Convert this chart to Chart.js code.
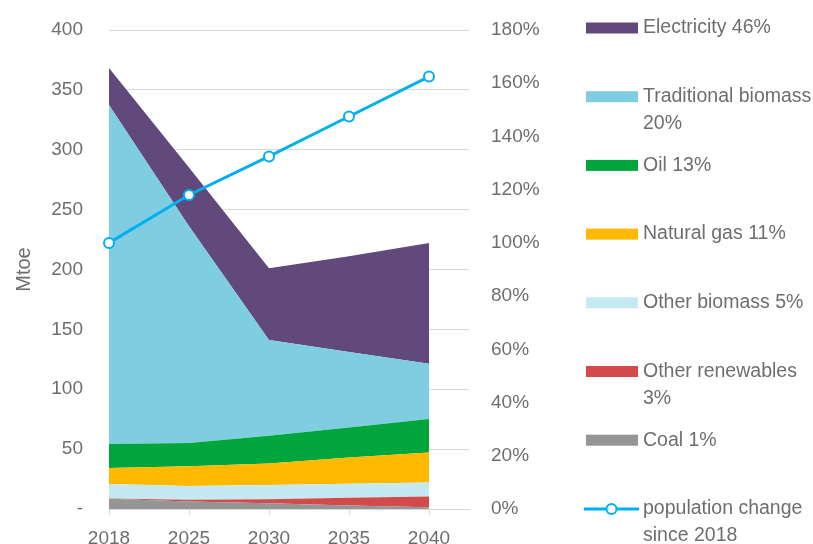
<!DOCTYPE html>
<html>
<head>
<meta charset="utf-8">
<script src="https://cdn.jsdelivr.net/npm/chart.js@4"></script>
<style>
    html, body { margin: 0; padding: 0; background: #fff; }
    canvas { display: block; }
</style>
</head>
<body>
<canvas id="chart" width="813" height="544"></canvas>
<script>
// Years on the x axis
const years = ['2018', '2025', '2030', '2035', '2040'];

// Energy by source in Mtoe, stacked bottom to top
const coal = [8.5, 6.3, 4.8, 3.0, 1.5];
const otherRenewables = [0.3, 1.4, 3.3, 6.4, 9.0];
const otherBiomass = [12, 11.5, 12, 11.7, 11.7];
const naturalGas = [13.5, 16.5, 18, 22, 25];
const oil = [20, 19.5, 23, 25, 28];
const traditionalBiomass = [283, 181, 80, 63, 46];
const electricity = [31, 49, 60, 80, 101];

// Population change since 2018 (right axis, %)
const population = [100, 118, 132.5, 147.5, 162.5];

const areaNames = ['Coal 1%', 'Other renewables 3%', 'Other biomass 5%', 'Natural gas 11%',
    'Oil 13%', 'Traditional biomass 20%', 'Electricity 46%'];
const lineName = 'population change since 2018';

const leftTicks = ['-', '50', '100', '150', '200', '250', '300', '350', '400'];
const rightTicks = ['0%', '20%', '40%', '60%', '80%', '100%', '120%', '140%', '160%', '180%'];

const areaColors = ['#959595', '#d24a4a', '#c5e9f1', '#ffb900', '#00a63c', '#7fcde1', '#61497b'];
const lineColor = '#00b0f0';
const textColor = '#6e6e6e';
const gridColor = '#d9d9d9';
const fontFamily = '"Liberation Sans", Arial, sans-serif';

const areaSeries = [coal, otherRenewables, otherBiomass, naturalGas, oil, traditionalBiomass, electricity];

const datasets = areaSeries.map(function(values, i) {
    return {
        label: areaNames[i],
        data: values.map((v, j) => ({ x: j, y: v })),
        yAxisID: 'y',
        backgroundColor: areaColors[i],
        borderWidth: 0,
        pointRadius: 0,
        fill: i === 0 ? 'origin' : '-1',
        tension: 0,
        order: 1
    };
});

datasets.push({
    label: lineName,
    data: population.map((v, j) => ({ x: j, y: v })),
    yAxisID: 'y1',
    borderColor: lineColor,
    borderWidth: 3,
    backgroundColor: '#fff',
    pointRadius: 5,
    pointBorderWidth: 2,
    pointBorderColor: lineColor,
    pointBackgroundColor: '#fff',
    fill: false,
    clip: false,
    order: 0
});

// Legend drawn to the right, laid out like the original
const sideLegend = {
    id: 'sideLegend',
    afterDraw(chart) {
        const ctx = chart.ctx;
        const boxX = 586, boxW = 52, textX = 643, maxW = 170;
        ctx.save();
        ctx.font = '19.5px ' + fontFamily;
        ctx.textBaseline = 'middle';
        ctx.textAlign = 'left';

        function wrap(text) {
            const words = text.split(' ');
            const lines = [];
            let cur = '';
            words.forEach(function(w) {
                const test = cur ? cur + ' ' + w : w;
                if (ctx.measureText(test).width > maxW && cur) {
                    lines.push(cur);
                    cur = w;
                } else {
                    cur = test;
                }
            });
            lines.push(cur);
            return lines;
        }

        const entries = [];
        for (let i = areaNames.length - 1; i >= 0; i--) {
            entries.push({ text: areaNames[i], color: areaColors[i], line: false });
        }
        entries.push({ text: lineName, color: lineColor, line: true });

        entries.forEach(function(e, k) {
            const cy = 28 + k * 68.7;
            if (e.line) {
                ctx.strokeStyle = e.color;
                ctx.lineWidth = 3;
                ctx.beginPath();
                ctx.moveTo(584, cy);
                ctx.lineTo(639, cy);
                ctx.stroke();
                ctx.fillStyle = '#fff';
                ctx.lineWidth = 2;
                ctx.beginPath();
                ctx.arc(611.5, cy, 5, 0, Math.PI * 2);
                ctx.fill();
                ctx.stroke();
            } else {
                ctx.fillStyle = e.color;
                ctx.fillRect(boxX, cy - 5.5, boxW, 11);
            }
            ctx.fillStyle = textColor;
            wrap(e.text).forEach(function(line, n) {
                ctx.fillText(line, textX, cy + n * 27);
            });
        });
        ctx.restore();
    }
};

const ctx = document.getElementById('chart').getContext('2d');
const chart = new Chart(ctx, {
    type: 'line',
    data: { datasets: datasets },
    options: {
        responsive: false,
        animation: false,
        layout: { padding: { top: 30, right: 240, bottom: 0, left: 0 } },
        plugins: {
            legend: { display: false },
            tooltip: { enabled: false }
        },
        scales: {
            x: {
                type: 'linear',
                min: 0,
                max: 4.5,
                afterBuildTicks: function(scale) {
                    scale.ticks = years.map((_, i) => ({ value: i }));
                },
                afterFit: function(scale) { scale.height = 35; },
                grid: { drawOnChartArea: false, drawTicks: true, tickLength: 6, color: gridColor },
                border: { display: true, color: gridColor, width: 1 },
                ticks: {
                    autoSkip: false,
                    maxRotation: 0,
                    padding: 12,
                    color: textColor,
                    font: { family: fontFamily, size: 19 },
                    callback: function(value) { return years[value]; }
                }
            },
            y: {
                position: 'left',
                stacked: true,
                min: 0,
                max: 400,
                afterFit: function(scale) { scale.width = 109; },
                // invisible tick marks push the labels out without adding top padding
                grid: { color: gridColor, lineWidth: 1, drawTicks: true, tickLength: 24, tickColor: 'rgba(0,0,0,0)' },
                border: { display: false },
                ticks: {
                    stepSize: 50,
                    padding: 2,
                    color: textColor,
                    font: { family: fontFamily, size: 19 },
                    callback: function(value, index) { return leftTicks[index]; }
                },
                title: {
                    display: true,
                    text: 'Mtoe',
                    color: textColor,
                    font: { family: fontFamily, size: 20 },
                    padding: { top: 12, bottom: 0 }
                }
            },
            y1: {
                position: 'right',
                min: 0,
                max: 180,
                afterFit: function(scale) { scale.width = 104; },
                grid: { display: false, tickLength: 20 },
                border: { display: false },
                ticks: {
                    stepSize: 20,
                    padding: 2,
                    color: textColor,
                    font: { family: fontFamily, size: 19 },
                    callback: function(value, index) { return rightTicks[index]; }
                }
            }
        }
    },
    plugins: [sideLegend]
});
</script>
</body>
</html>
